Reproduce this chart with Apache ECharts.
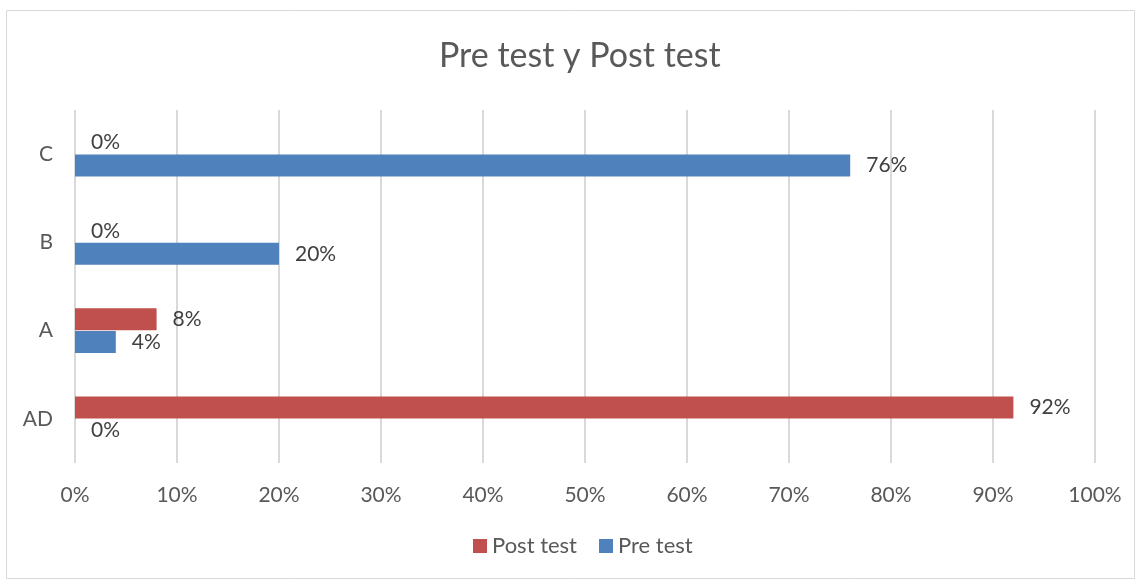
<!DOCTYPE html>
<html>
<head>
<meta charset="utf-8">
<script src="https://cdn.jsdelivr.net/npm/echarts@6/dist/echarts.min.js"></script>
<style>
  html, body { margin: 0; padding: 0; background: #fff; }
  #chart { width: 1141px; height: 582px; }
</style>
</head>
<body>
<div id="chart"></div>
<script>
const categories = ['AD', 'A', 'B', 'C'];
const postTest = [92, 8, 0, 0];
const preTest = [0, 4, 20, 76];
const xTicks = [0, 10, 20, 30, 40, 50, 60, 70, 80, 90, 100];

const FONT = 'Lato, "Open Sans", sans-serif';
let myChart = echarts.init(document.getElementById('chart'));

let labelStyle = {
    show: true,
    position: 'right',
    distance: 16,
    formatter: '{c}%',
    color: '#404040',
    fontSize: 21,
    fontFamily: FONT
};

let option = {
    backgroundColor: '#fff',
    title: {
        text: 'Pre test y Post test',
        left: 434,
        top: 34,
        textStyle: { color: '#595959', fontSize: 34, fontWeight: 'normal', fontFamily: FONT }
    },
    legend: {
        data: ['Post test', 'Pre test'],
        bottom: 20,
        left: 468,
        itemWidth: 14,
        itemHeight: 14,
        itemGap: 22,
        icon: 'rect',
        textStyle: { color: '#595959', fontSize: 22, fontFamily: FONT }
    },
    grid: { left: 75, right: 46, top: 110, bottom: 119 },
    xAxis: {
        type: 'value',
        min: xTicks[0],
        max: xTicks[xTicks.length - 1],
        interval: 10,
        axisLine: { show: false },
        axisTick: { show: false },
        axisLabel: { formatter: '{value}%', color: '#595959', fontSize: 21, fontFamily: FONT, margin: 22 },
        splitLine: { lineStyle: { color: '#d9d9d9', width: 2 } }
    },
    yAxis: {
        type: 'category',
        data: categories,
        axisLine: { show: false },
        axisTick: { show: false },
        axisLabel: { color: '#595959', fontSize: 21, fontFamily: FONT, margin: 22 }
    },
    series: [
        {
            name: 'Post test',
            type: 'bar',
            data: postTest,
            barWidth: 22,
            barGap: '4%',
            itemStyle: { color: '#C0504D' },
            label: labelStyle
        },
        {
            name: 'Pre test',
            type: 'bar',
            data: preTest,
            barWidth: 22,
            itemStyle: { color: '#4F81BD' },
            label: labelStyle
        }
    ],
    graphic: [{
        type: 'rect',
        shape: { x: 6.5, y: 10.5, width: 1128, height: 568 },
        style: { fill: 'none', stroke: '#d9d9d9', lineWidth: 1 },
        silent: true
    }]
};
myChart.setOption(option);
</script>
</body>
</html>
